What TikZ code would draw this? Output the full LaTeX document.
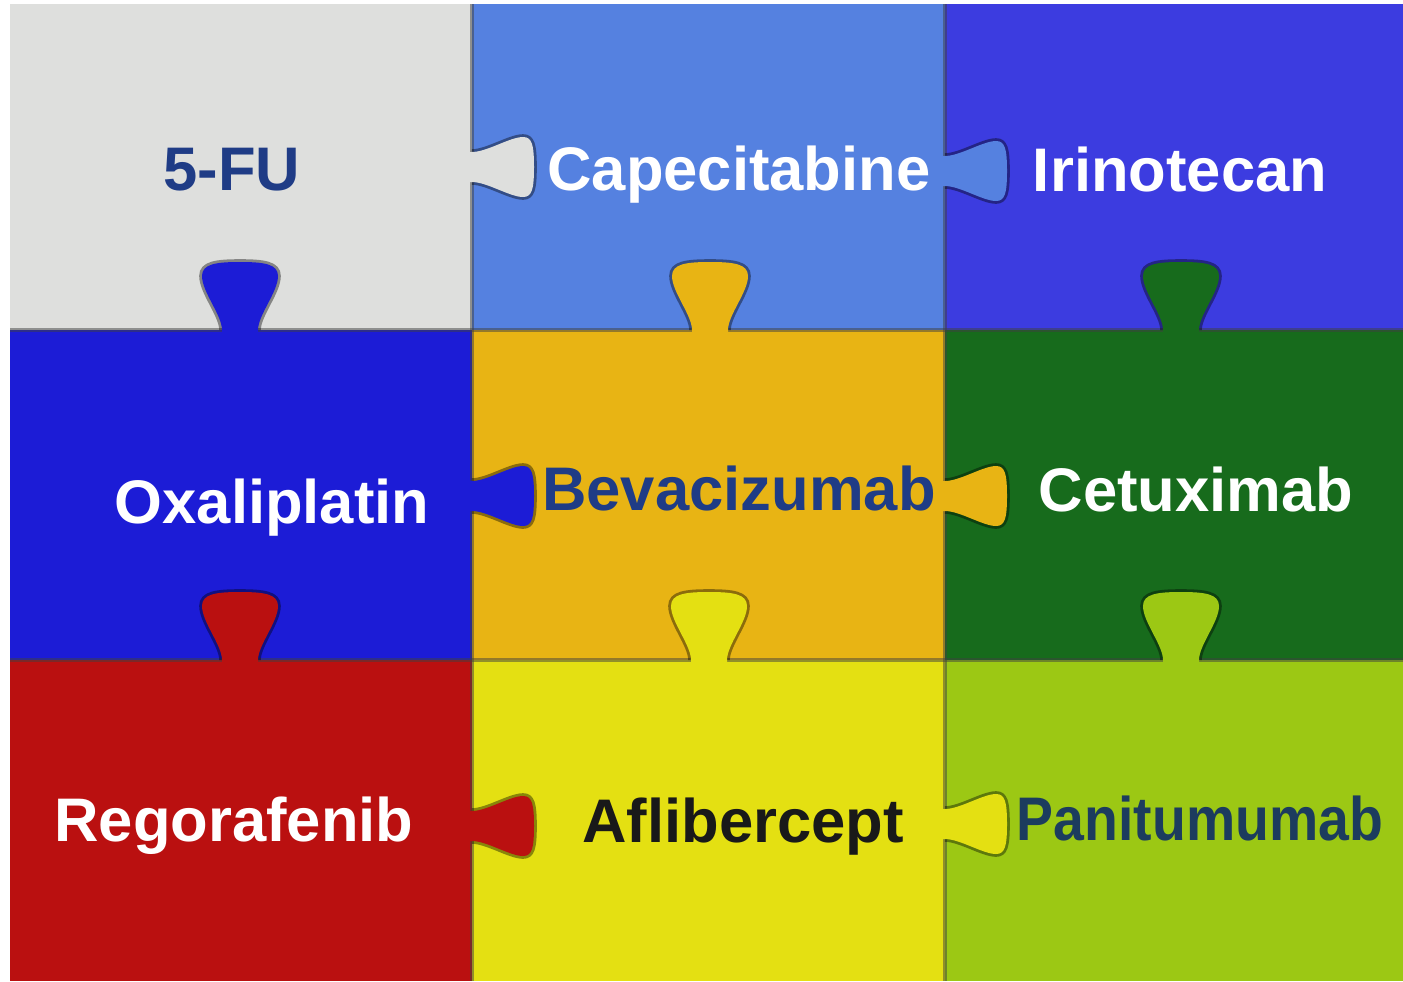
\documentclass[tikz,border=0pt]{standalone}
\usepackage{fontspec}
\setmainfont{Liberation Sans}
\usetikzlibrary{calc}
\definecolor{FUGray}{HTML}{DEDFDD}
\definecolor{CapeBlue}{HTML}{5581E0}
\definecolor{IrinoBlue}{HTML}{3C3CE0}
\definecolor{OxaliBlue}{HTML}{1C1CD6}
\definecolor{BevaAmber}{HTML}{E8B414}
\definecolor{CetuxGreen}{HTML}{176B1C}
\definecolor{RegoRed}{HTML}{BA1010}
\definecolor{AfliYellow}{HTML}{E4E012}
\definecolor{PaniLime}{HTML}{9CC814}
\definecolor{TextNavy}{HTML}{1F3C86}
\definecolor{TextTeal}{HTML}{1C3C5E}

\begin{document}
\begin{tikzpicture}[
    x=0.01cm, y=-0.01cm,
    piece/.style={fill=#1, draw=none},
    seam/.style={draw=black!75, line width=1.1pt, opacity=0.5},
    lbl/.style={
      font=\fontsize{17.5}{20}\selectfont\bfseries,
      text=#1,
      anchor=base,
      inner sep=0pt
    },
    tabright/.pic={
      \draw[black, opacity=0.4, line width=1.6pt]
        (0,-15) .. controls (15,-15) and (38,-30) .. (51,-30)
        .. controls (60,-30) and (62,-22) .. (62,0)
        .. controls (62,22) and (60,30) .. (51,30)
        .. controls (38,30) and (15,15) .. (0,15);
      \fill[#1] (-5,-15) -- (0,-15) .. controls (15,-15) and (38,-30) .. (51,-30)
        .. controls (60,-30) and (62,-22) .. (62,0)
        .. controls (62,22) and (60,30) .. (51,30)
        .. controls (38,30) and (15,15) .. (0,15) -- (-5,15) -- cycle;
    },
    tabup/.pic={
      \draw[black, opacity=0.4, line width=1.6pt]
        (-18,0) .. controls (-18,-15) and (-38,-38) .. (-38,-54)
        .. controls (-38,-66) and (-24,-68) .. (0,-68)
        .. controls (24,-68) and (38,-66) .. (38,-54)
        .. controls (38,-38) and (18,-15) .. (18,0);
      \fill[#1] (-18,5) -- (-18,0) .. controls (-18,-15) and (-38,-38) .. (-38,-54)
        .. controls (-38,-66) and (-24,-68) .. (0,-68)
        .. controls (24,-68) and (38,-66) .. (38,-54)
        .. controls (38,-38) and (18,-15) .. (18,0) -- (18,5) -- cycle;
    }
  ]

  % Frame
  \useasboundingbox (0,0) rectangle (1403,981);
  \fill[white] (0,0) rectangle (1403,981);

  % Pieces
  \fill[piece=FUGray]     (10,4)    rectangle (472,330);
  \fill[piece=CapeBlue]   (472,4)   rectangle (945,330);
  \fill[piece=IrinoBlue]  (945,4)   rectangle (1403,330);
  \fill[piece=OxaliBlue]  (10,330)  rectangle (472,660);
  \fill[piece=BevaAmber]  (472,330) rectangle (945,660);
  \fill[piece=CetuxGreen] (945,330) rectangle (1403,660);
  \fill[piece=RegoRed]    (10,660)  rectangle (472,981);
  \fill[piece=AfliYellow] (472,660) rectangle (945,981);
  \fill[piece=PaniLime]   (945,660) rectangle (1403,981);

  % Seams
  \draw[seam] (472,4) -- (472,981);
  \draw[seam] (945,4) -- (945,981);
  \draw[seam] (10,330) -- (1403,330);
  \draw[seam] (10,660) -- (1403,660);

  % Tabs
  \pic at (472,167) {tabright=FUGray};
  \pic at (945,171) {tabright=CapeBlue};
  \pic at (240,330) {tabup=OxaliBlue};
  \pic at (710,330) {tabup=BevaAmber};
  \pic at (1181,330) {tabup=CetuxGreen};
  \pic at (472,496) {tabright=OxaliBlue};
  \pic at (945,496) {tabright=BevaAmber};
  \pic at (240,660) {tabup=RegoRed};
  \pic at (709,660) {tabup=AfliYellow};
  \pic at (1181,660) {tabup=PaniLime};
  \pic at (472,826) {tabright=RegoRed};
  \pic at (945,824) {tabright=AfliYellow};

  % Labels
  \node[lbl=TextNavy]    (fu)    at (232,190)  {5-FU};
  \node[lbl=white]       (cape)  at (739,190)  {Capecitabine};
  \node[lbl=white]       (irino) at (1180,191) {Irinotecan};
  \node[lbl=white]       (oxali) at (272,523)  {Oxaliplatin};
  \node[lbl=TextNavy]    (beva)  at (739,510)  {Bevacizumab};
  \node[lbl=white]       (cetux) at (1196,511) {Cetuximab};
  \node[lbl=white]       (rego)  at (234,841)  {Regorafenib};
  \node[lbl=black!90]    (afli)  at (743,842)  {Aflibercept};
  \node[lbl=TextTeal]    (pani)  at (1200,840) {\scalebox{0.9}[1]{Panitumumab}};

\end{tikzpicture}
\end{document}
